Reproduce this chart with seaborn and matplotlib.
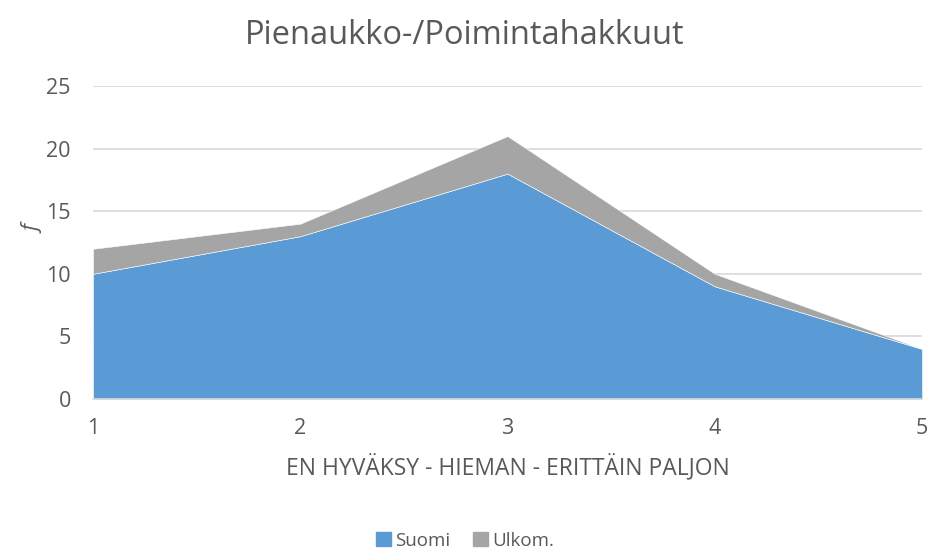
import matplotlib
matplotlib.use("Agg")
import matplotlib.pyplot as plt
import seaborn as sns
from matplotlib.patches import Patch

# data
x_vals = [1, 2, 3, 4, 5]
suomi = [10, 13, 18, 9, 4]
ulkom = [2, 1, 3, 1, 0]
series_names = ["Suomi", "Ulkom."]
colors = ["#5B9BD5", "#A5A5A5"]

sns.set_theme(style="white")
plt.rcParams['font.family'] = ['Open Sans', 'DejaVu Sans']
txt = "#595959"

fig = plt.figure(figsize=(9.3, 5.49), dpi=100)
ax = fig.add_axes([0.1, 0.2732, 0.8914, 0.5702])

ax.stackplot(x_vals, suomi, ulkom, colors=colors, edgecolor="white", linewidth=0.4, zorder=2)

ax.set_xlim(1, 5)
ax.set_ylim(0, 25)
ax.set_yticks(range(0, 26, 5))
ax.set_xticks(x_vals)
ax.yaxis.grid(True, color="#D9D9D9", linewidth=1.2, zorder=0)
ax.set_axisbelow(True)
for s in ["top", "right", "left"]:
    ax.spines[s].set_visible(False)
ax.spines["bottom"].set_color("#D9D9D9")
ax.spines["bottom"].set_linewidth(1.2)
ax.tick_params(axis="x", colors="#D9D9D9", length=6, width=1.2, labelcolor=txt, labelsize=15.5, pad=8)
ax.tick_params(axis="y", length=0, labelcolor=txt, labelsize=15.5, pad=16)

ax.set_xlabel("EN HYVÄKSY - HIEMAN - ERITTÄIN PALJON", color=txt, fontsize=16.5, labelpad=10)
ax.set_ylabel("f", color=txt, fontsize=16, style="italic")
ax.yaxis.set_label_coords(-0.058, 0.54)

fig.text(0.5, 0.935, "Pienaukko-/Poimintahakkuut", ha="center", va="center", color=txt, fontsize=23.5)

handles = [Patch(color=c, label=n) for c, n in zip(colors, series_names)]
fig.legend(handles=handles, loc="center", bbox_to_anchor=(0.5, 0.015), ncol=2, frameon=False,
           fontsize=13.5, labelcolor=txt, handlelength=0.8, handleheight=0.8, handletextpad=0.25,
           columnspacing=1.2)

fig.savefig("out.png", dpi=100)
